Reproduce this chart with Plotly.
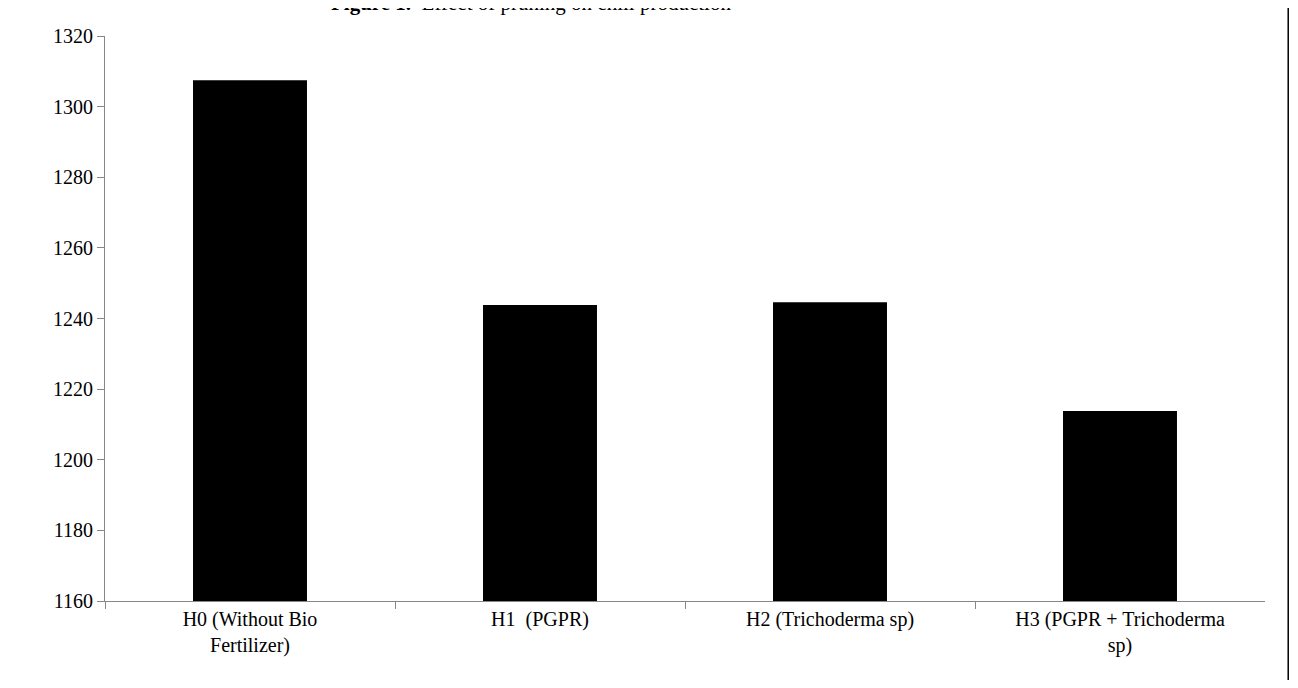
import plotly.graph_objects as go

categories = ["H0 (Without Bio<br>Fertilizer)", "H1  (PGPR)", "H2 (Trichoderma sp)", "H3 (PGPR + Trichoderma<br>sp)"]
values = [1307.5, 1243.8, 1244.6, 1213.8]
y_ticks = [1160, 1180, 1200, 1220, 1240, 1260, 1280, 1300, 1320]
title_text = "<b>Figure 1.</b>  Effect of pruning on chili production"

fig = go.Figure()
fig.add_trace(go.Bar(x=categories, y=values, marker=dict(color="black", line=dict(width=0)),
                     width=0.393))

font = dict(family="Liberation Serif, Times New Roman, serif", size=20, color="black")
fig.update_layout(
    width=1282, height=672,
    margin=dict(l=97, r=0, t=28, b=79),
    paper_bgcolor="white", plot_bgcolor="white",
    font=font, showlegend=False, bargap=0.607,
)
fig.update_yaxes(range=[1160, 1320], tickvals=y_ticks, showgrid=False, zeroline=False,
                 showline=True, linecolor="#868686", linewidth=1,
                 ticks="outside", ticklen=7, tickcolor="#868686", tickfont=font)
fig.update_xaxes(domain=[0, 0.9789], showgrid=False, showline=True, linecolor="#868686", linewidth=1,
                 ticks="outside", ticklen=7, tickcolor="#868686", tickson="boundaries",
                 tickfont=font)
fig.add_annotation(text=title_text, xref="paper", yref="paper", x=0.3595, y=1.0585,
                   xanchor="center", yanchor="middle", showarrow=False,
                   font=dict(family=font["family"], size=21, color="black"))
fig.add_shape(type="line", xref="paper", yref="paper", x0=0.9985, x1=0.9985, y0=-0.2, y1=1.2,
              line=dict(color="black", width=1.5))
fig.write_html("out.html")
